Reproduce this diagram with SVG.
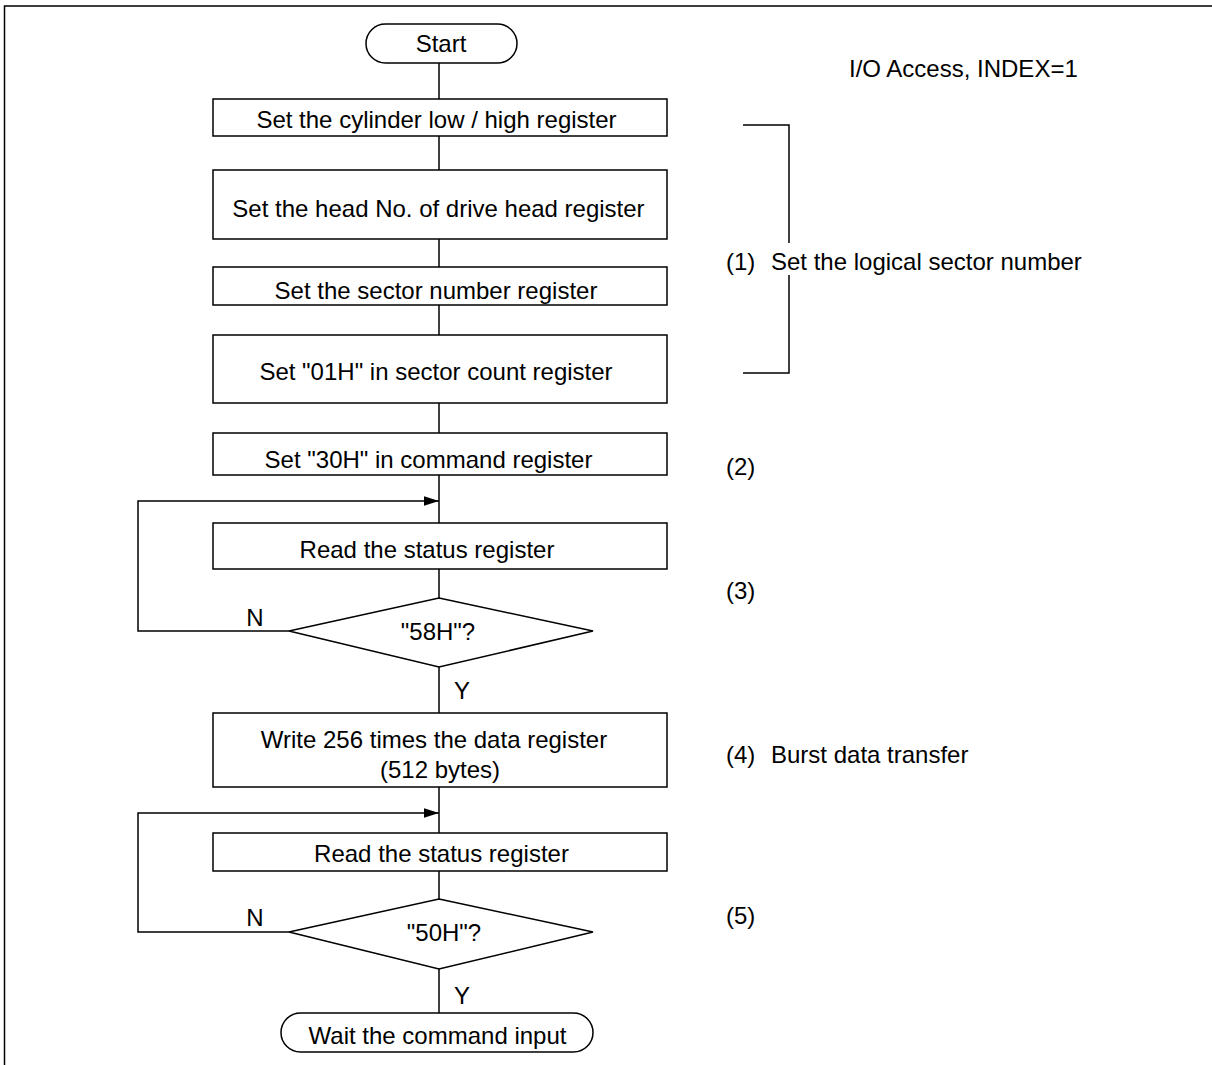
<svg xmlns="http://www.w3.org/2000/svg" width="1212" height="1065" viewBox="0 0 1212 1065">
<defs>
<style>
.s{fill:#fff;stroke:#000;stroke-width:1.5}
.l{fill:none;stroke:#000;stroke-width:1.5}
text{font-family:"Liberation Sans",Arial,sans-serif;font-size:24px;fill:#000}
.c{text-anchor:middle}
</style>
<marker id="ah" viewBox="0 0 10 10" refX="10" refY="5" markerWidth="15" markerHeight="15" markerUnits="userSpaceOnUse" orient="auto">
<path d="M0,1.8 L10,5 L0,8.2 Z" fill="#000"/>
</marker>
</defs>
<rect width="1212" height="1065" fill="#fff"/>
<path class="l" d="M4.5,1065 V6 H1212" stroke-width="2"/>
<g id="connectors">
<path class="l" d="M439,63 V99"/>
<path class="l" d="M439,136 V170"/>
<path class="l" d="M439,239 V267"/>
<path class="l" d="M439,305 V335"/>
<path class="l" d="M439,403 V433"/>
<path class="l" d="M439,475 V523"/>
<path class="l" d="M439,569 V598"/>
<path class="l" d="M439,667 V713"/>
<path class="l" d="M439,787 V833"/>
<path class="l" d="M439,871 V899"/>
<path class="l" d="M439,969 V1013"/>
<path class="l" d="M289,631 H138 V501 H439" marker-end="url(#ah)"/>
<path class="l" d="M289,932 H138 V813 H439" marker-end="url(#ah)"/>
<text x="255" y="626" class="c">N</text>
<text x="462" y="699" class="c">Y</text>
<text x="255" y="926" class="c">N</text>
<text x="462" y="1004" class="c">Y</text>
</g>
<g id="start"><rect class="s" x="366" y="24" width="151" height="39" rx="19.5"/><text x="441" y="52" class="c">Start</text></g>
<g id="box1"><rect class="s" x="213" y="99" width="454" height="37"/><text x="436.5" y="128" class="c">Set the cylinder low / high register</text></g>
<g id="box2"><rect class="s" x="213" y="170" width="454" height="69"/><text x="438.5" y="217" class="c">Set the head No. of drive head register</text></g>
<g id="box3"><rect class="s" x="213" y="267" width="454" height="38"/><text x="436" y="299" class="c">Set the sector number register</text></g>
<g id="box4"><rect class="s" x="213" y="335" width="454" height="68"/><text x="436" y="380" class="c">Set "01H" in sector count register</text></g>
<g id="box5"><rect class="s" x="213" y="433" width="454" height="42"/><text x="428.5" y="468" class="c">Set "30H" in command register</text></g>
<g id="box6"><rect class="s" x="213" y="523" width="454" height="46"/><text x="427" y="558" class="c">Read the status register</text></g>
<g id="dec1"><polygon class="s" points="439,598 593,631 439,667 289,631"/><text x="438" y="640" class="c">"58H"?</text></g>
<g id="box7"><rect class="s" x="213" y="713" width="454" height="74"/><text x="434" y="748" class="c">Write 256 times the data register</text><text x="440" y="778" class="c">(512 bytes)</text></g>
<g id="box8"><rect class="s" x="213" y="833" width="454" height="38"/><text x="441.5" y="862" class="c">Read the status register</text></g>
<g id="dec2"><polygon class="s" points="439,899 593,932 439,969 289,932"/><text x="444" y="941" class="c">"50H"?</text></g>
<g id="end"><rect class="s" x="281" y="1013" width="312" height="39" rx="19.5"/><text x="437.5" y="1044" class="c">Wait the command input</text></g>
<g id="annotations">
<text x="849" y="77">I/O Access, INDEX=1</text>
<path class="l" d="M743,125 H789 V243 M789,275 V373 H743"/>
<text x="726" y="270">(1)</text><text x="771" y="270">Set the logical sector number</text>
<text x="726" y="475">(2)</text>
<text x="726" y="599">(3)</text>
<text x="726" y="763">(4)</text><text x="771" y="763">Burst data transfer</text>
<text x="726" y="924">(5)</text>
</g>
</svg>
